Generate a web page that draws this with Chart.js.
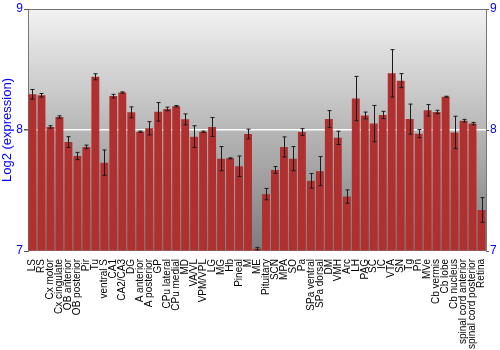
<!DOCTYPE html>
<html>
<head>
<meta charset="utf-8">
<script src="https://cdn.jsdelivr.net/npm/chart.js@4"></script>
<style>
  html, body { margin: 0; padding: 0; background: #fff; }
  #wrap { width: 500px; height: 350px; }
</style>
</head>
<body>
<div id="wrap"><canvas id="barChart" width="500" height="350"></canvas></div>
<script>
const regions = ['LS', 'RS', 'Cx motor', 'Cx cingulate', 'OB anterior', 'OB posterior', 'Pir', 'Tu',
    'ventral S', 'CA1', 'CA2/CA3', 'DG', 'A anterior', 'A posterior', 'GP', 'CPu lateral', 'CPu medial',
    'MD', 'VA/VL', 'VPM/VPL', 'LG', 'MG', 'Hb', 'Pineal', 'M', 'ME', 'Pituitary', 'SCN', 'MPA', 'SO',
    'Pa', 'SPa ventral', 'SPa dorsal', 'DM', 'VMH', 'Arc', 'LH', 'PAG', 'SC', 'IC', 'VTA', 'SN', 'Tg',
    'Pn', 'MVe', 'Cb vermis', 'Cb lobe', 'Cb nucleus', 'spinal cord anterior', 'spinal cord posterior',
    'Retina'];

const expression = [8.295, 8.287, 8.025, 8.107, 7.90, 7.785, 7.86, 8.44,
    7.73, 8.28, 8.31, 8.146, 7.986, 8.014, 8.15, 8.174, 8.196,
    8.088, 7.945, 7.986, 8.025, 7.763, 7.766, 7.70, 7.967, 7.02, 7.47, 7.67, 7.86, 7.763,
    7.983, 7.58, 7.66, 8.09, 7.935, 7.45, 8.26, 8.12, 8.053, 8.124, 8.468, 8.408, 8.09,
    7.97, 8.163, 8.149, 8.275, 7.98, 8.077, 8.053,
    7.339];

const errors = [0.04, 0.015, 0.01, 0.01, 0.045, 0.03, 0.015, 0.025,
    0.105, 0.015, 0.005, 0.045, 0.005, 0.055, 0.077, 0.015, 0.006,
    0.045, 0.09, 0.005, 0.078, 0.1, 0.004, 0.085, 0.04, 0.01, 0.047, 0.028, 0.083, 0.1,
    0.028, 0.06, 0.12, 0.07, 0.055, 0.055, 0.183, 0.028, 0.15, 0.03, 0.196, 0.058, 0.124,
    0.033, 0.047, 0.014, 0.004, 0.134, 0.011, 0.01,
    0.102];

const yTicks = [7, 8, 9];
const BLUE = '#0000ff';
const FONT = 'Liberation Sans, Arial, sans-serif';

const plotBackground = {
    id: 'plotBackground',
    beforeDraw(chart) {
        const { ctx, chartArea: a } = chart;
        const g = ctx.createLinearGradient(0, a.top, 0, a.bottom);
        g.addColorStop(0, '#f2f2f2');
        g.addColorStop(1, '#7c7c7c');
        ctx.save();
        ctx.fillStyle = g;
        ctx.fillRect(a.left, a.top, a.right - a.left, a.bottom - a.top);
        ctx.restore();
    }
};

const errorBars = {
    id: 'errorBars',
    afterDatasetsDraw(chart) {
        const { ctx } = chart;
        const y = chart.scales.y;
        const meta = chart.getDatasetMeta(0);
        ctx.save();
        ctx.strokeStyle = '#1a1a1a';
        ctx.lineWidth = 1;
        meta.data.forEach((bar, i) => {
            const x = Math.round(bar.x) + 0.5;
            const top = y.getPixelForValue(expression[i] + errors[i]);
            const bot = y.getPixelForValue(expression[i] - errors[i]);
            ctx.beginPath();
            ctx.moveTo(x, top);
            ctx.lineTo(x, bot);
            ctx.moveTo(x - 2, top);
            ctx.lineTo(x + 2, top);
            ctx.moveTo(x - 2, bot);
            ctx.lineTo(x + 2, bot);
            ctx.stroke();
        });
        ctx.restore();
    }
};

function barGradient(context) {
    const chart = context.chart;
    const el = chart.getDatasetMeta(0).data[context.dataIndex];
    if (!chart.chartArea || !el || el.width === undefined) return '#b03030';
    const left = el.x - el.width / 2;
    const g = chart.ctx.createLinearGradient(left, 0, left + el.width, 0);
    g.addColorStop(0, 'rgba(205,95,95,0.95)');
    g.addColorStop(0.35, 'rgba(185,48,48,0.95)');
    g.addColorStop(1, 'rgba(115,18,18,0.97)');
    return g;
}

const ctx = document.getElementById('barChart').getContext('2d');
new Chart(ctx, {
    type: 'bar',
    data: {
        labels: regions,
        datasets: [{
            data: expression,
            base: 7,
            backgroundColor: barGradient,
            borderWidth: 0,
            categoryPercentage: 1,
            barPercentage: 0.88
        }]
    },
    options: {
        responsive: false,
        animation: false,
        layout: { padding: { top: 9, left: 0, right: 0, bottom: 0 } },
        plugins: { legend: { display: false }, tooltip: { enabled: false } },
        scales: {
            x: {
                grid: { display: false },
                border: { display: false },
                ticks: {
                    autoSkip: false,
                    maxRotation: 90,
                    minRotation: 90,
                    padding: 0,
                    color: '#000',
                    font: { family: FONT, size: 10 }
                },
                afterFit(scale) { scale.height = 99; }
            },
            y: {
                min: 7,
                max: 9,
                afterBuildTicks(scale) { scale.ticks = yTicks.map(v => ({ value: v })); },
                grid: {
                    color: c => c.tick && c.tick.value === 8 ? '#ffffff' : (c.tick && c.tick.value === 9 ? '#707070' : 'rgba(0,0,0,0)'),
                    lineWidth: c => c.tick && c.tick.value === 8 ? 1.5 : 1,
                    tickColor: '#555',
                    tickLength: 4
                },
                border: { display: true, color: '#777' },
                ticks: {
                    color: BLUE,
                    padding: 1,
                    font: { family: FONT, size: 12 }
                },
                title: {
                    display: true,
                    text: 'Log2 (expression)',
                    color: BLUE,
                    padding: 0,
                    font: { family: FONT, size: 13 }
                },
                afterFit(scale) { scale.width = 28; }
            },
            y2: {
                position: 'right',
                min: 7,
                max: 9,
                afterBuildTicks(scale) { scale.ticks = yTicks.map(v => ({ value: v })); },
                grid: { drawOnChartArea: false, tickColor: '#555', tickLength: 3 },
                border: { display: true, color: '#777' },
                ticks: {
                    color: BLUE,
                    padding: 1,
                    font: { family: FONT, size: 12 }
                },
                afterFit(scale) { scale.width = 14; }
            }
        }
    },
    plugins: [plotBackground, errorBars]
});
</script>
</body>
</html>
